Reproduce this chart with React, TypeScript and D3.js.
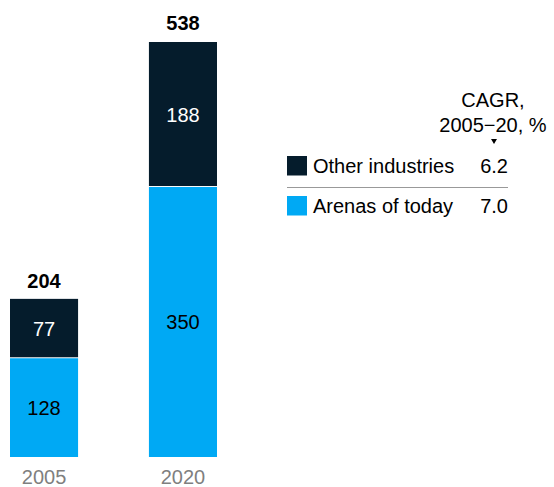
import React from "react";
import * as d3 from "d3";

const years = ["2005", "2020"];
const arenas = [128, 350];
const other = [77, 188];
const totals = [204, 538];
const seriesNames = ["Other industries", "Arenas of today"];
const cagr = ["6.2", "7.0"];

const W = 554, H = 487;
const DARK = "#051C2C", BLUE = "#00A9F4";
const FONT = "'Liberation Sans', Arial, sans-serif";

export default function App() {
  const x = d3.scaleBand().domain(years).range([10, 217]).paddingInner(0.51).paddingOuter(0);
  const y = d3.scaleLinear().domain([0, 538]).range([457, 42]);
  const data = years.map((yr, i) => ({ yr, arenas: arenas[i], other: other[i] }));
  const stack = d3.stack<any>().keys(["arenas", "other"])(data);
  const colors: Record<string, string> = { arenas: BLUE, other: DARK };
  const txt: Record<string, string> = { arenas: "#000", other: "#fff" };

  return (
    <svg width={W} height={H} style={{ position: "absolute", left: 0, top: 0 }} fontFamily={FONT}>
      {stack.map((s) =>
        s.map((d, i) => {
          const x0 = x(years[i])!;
          const y0 = y(d[1]);
          const y1 = y(d[0]);
          const hh = y1 - y0 - (s.key === "other" ? 1 : 0);
          return (
            <g key={s.key + i}>
              <rect x={x0} y={y0} width={x.bandwidth()} height={hh} fill={colors[s.key]} />
              <text x={x0 + x.bandwidth() / 2} y={(y0 + y1) / 2 + 7} textAnchor="middle" fontSize={20} fill={txt[s.key]}>
                {d[1] - d[0]}
              </text>
            </g>
          );
        })
      )}
      {years.map((yr, i) => (
        <g key={yr}>
          <text x={x(yr)! + x.bandwidth() / 2} y={y(totals[i]) - 12} textAnchor="middle" fontSize={20} fontWeight="bold" fill="#000">
            {totals[i]}
          </text>
          <text x={x(yr)! + x.bandwidth() / 2} y={484} textAnchor="middle" fontSize={20} fill="#7f7f7f">
            {yr}
          </text>
        </g>
      ))}
      <text x={493} y={107} textAnchor="middle" fontSize={20} fill="#000">CAGR,</text>
      <text x={493} y={132} textAnchor="middle" fontSize={20} fill="#000">2005−20, %</text>
      <path d="M491,139 L497,139 L494,144 Z" fill="#000" />
      {seriesNames.map((n, i) => {
        const yy = 156 + i * 40;
        return (
          <g key={n}>
            <rect x={287} y={yy} width={20} height={19.5} fill={i === 0 ? DARK : BLUE} />
            <text x={313} y={yy + 17} fontSize={20} fill="#000">{n}</text>
            <text x={508} y={yy + 17} textAnchor="end" fontSize={20} fill="#000">{cagr[i]}</text>
          </g>
        );
      })}
      <line x1={287} x2={508} y1={187.5} y2={187.5} stroke="#999" strokeWidth={1} />
    </svg>
  );
}
